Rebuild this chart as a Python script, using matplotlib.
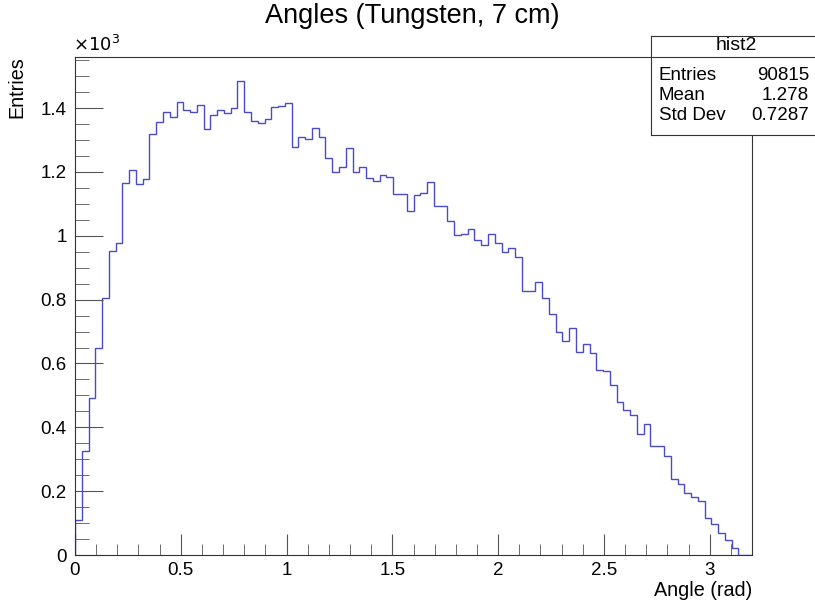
import numpy as np
import matplotlib.pyplot as plt
from matplotlib.ticker import MultipleLocator, FuncFormatter

# bin contents (100 bins, 0 to 3.2 rad)
counts = [110, 327, 493, 650, 804, 953, 976, 1167, 1207, 1163,
          1178, 1319, 1358, 1389, 1372, 1418, 1393, 1387, 1409, 1335,
          1378, 1394, 1385, 1400, 1486, 1387, 1359, 1355, 1366, 1403,
          1406, 1415, 1278, 1311, 1304, 1337, 1309, 1243, 1201, 1215,
          1275, 1199, 1215, 1181, 1173, 1191, 1184, 1130, 1130, 1077,
          1127, 1134, 1169, 1095, 1093, 1045, 1004, 1007, 1020, 986,
          972, 1007, 976, 949, 961, 935, 828, 828, 855, 805,
          754, 700, 669, 710, 635, 660, 633, 579, 577, 532,
          479, 453, 439, 378, 412, 343, 343, 310, 237, 224,
          195, 183, 168, 115, 97, 68, 47, 21, 0, 0]
x_min = 0.0
x_max = 3.2
stats_names = ['Entries', 'Mean', 'Std Dev']
stats_values = ['90815', '1.278', '0.7287']

plt.rcParams['font.family'] = ['Liberation Sans', 'DejaVu Sans']

edges = np.linspace(x_min, x_max, len(counts) + 1)
vals = np.array(counts) / 1000.0

fig = plt.figure(figsize=(8.15, 6.04), dpi=100)
ax = fig.add_axes([75 / 815, 1 - 555 / 604, 677 / 815, 498 / 604])

ax.stairs(vals, edges, color='#4b4bc8', linewidth=1.0)
ax.set_xlim(x_min, x_max)
ax.set_ylim(0, max(vals) * 1.05)

ax.xaxis.set_major_locator(MultipleLocator(0.5))
ax.xaxis.set_minor_locator(MultipleLocator(0.1))
ax.yaxis.set_major_locator(MultipleLocator(0.2))
ax.yaxis.set_minor_locator(MultipleLocator(0.05))
fmt = FuncFormatter(lambda v, p: '%g' % round(v, 3))
ax.xaxis.set_major_formatter(fmt)
ax.yaxis.set_major_formatter(fmt)

ax.tick_params(which='both', direction='in', top=False, right=False,
               color='#555555', labelsize=13.5)
ax.tick_params(axis='y', which='major', length=20, pad=6)
ax.tick_params(axis='y', which='minor', length=10)
ax.tick_params(axis='x', which='major', length=15, pad=5)
ax.tick_params(axis='x', which='minor', length=8)
for s in ax.spines.values():
    s.set_linewidth(0.8)
    s.set_color('#333333')

ax.text(-0.003, 1.004, r'$\times10^{3}$', transform=ax.transAxes,
        ha='left', va='bottom', fontsize=13)
fig.text(752 / 815, 1 - 590 / 604, 'Angle (rad)', ha='right', va='center', fontsize=14.2)
fig.text(17 / 815, 1 - 56 / 604, 'Entries', rotation=90, ha='center', va='top', fontsize=14.2)
fig.text(412 / 815, 1 - 16 / 604, 'Angles (Tungsten, 7 cm)', ha='center', va='center', fontsize=19.5)

# stats box
box = fig.add_axes([651 / 815, 1 - 135 / 604, 170 / 815, 99 / 604])
box.set_xlim(0, 1)
box.set_ylim(135, 36)
box.set_xticks([])
box.set_yticks([])
for s in box.spines.values():
    s.set_linewidth(0.8)
    s.set_color('#333333')
box.axhline(56.5, color='#333333', linewidth=0.8)
box.text(0.5, 46, 'hist2', ha='center', va='center', fontsize=14)
for i, (n, v) in enumerate(zip(stats_names, stats_values)):
    y = 75 + i * 20.5
    box.text(0.045, y, n, ha='left', va='center', fontsize=13.5)
    box.text(0.93, y, v, ha='right', va='center', fontsize=13.5)

fig.savefig('out.png', dpi=100)
